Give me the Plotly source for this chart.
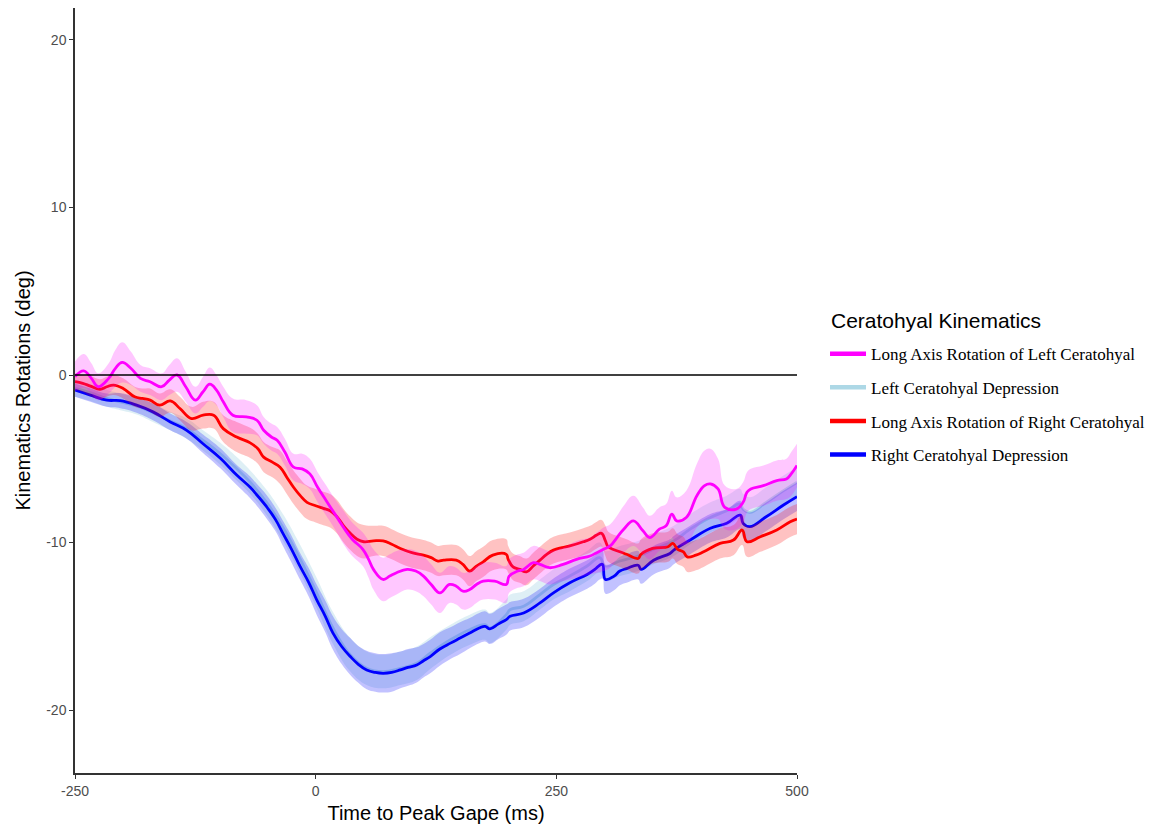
import plotly.graph_objects as go

# ---- Long Axis Rotation of Left Ceratohyal ----
lar_left_t = [-250, -241, -233, -226, -215, -208, -201, -192, -182, -172, -160, -152, -144, -135, -125,
              -117, -110, -103, -96, -86, -72, -61, -54, -46, -40, -32, -23, -14, -6, 2, 11, 20, 29, 38,
              49, 55, 60, 70, 77, 84, 95, 104, 112, 120, 129, 139, 146, 153, 160, 167, 174, 186, 198,
              201, 210, 216, 226, 233, 243, 257, 271, 285, 292, 299, 306, 313, 320, 330, 340, 347, 357,
              364, 370, 375, 385, 396, 404, 410, 418, 425, 437, 444, 448, 452, 465, 479, 489, 494, 500]
lar_left_mean = [-0.1, 0.25, -0.2, -0.7, -0.2, 0.4, 0.75, 0.4, -0.2, -0.4, -0.7, -0.3, 0.0, -0.7, -1.5,
                 -1.0, -0.55, -0.9, -1.6, -2.4, -2.5, -2.7, -3.3, -3.7, -3.9, -4.6, -5.5, -5.6, -5.9, -6.7,
                 -7.5, -8.3, -9.1, -9.8, -10.4, -11.0, -11.6, -12.2, -12.0, -11.8, -11.6, -11.7, -12.0,
                 -12.5, -13.0, -12.5, -12.6, -12.9, -12.8, -12.5, -12.3, -12.3, -12.5, -12.0, -11.7, -11.6,
                 -11.2, -11.3, -11.5, -11.3, -11.0, -10.8, -10.6, -10.4, -10.2, -9.7, -9.2, -8.7, -9.3,
                 -9.7, -9.2, -9.0, -8.3, -8.7, -8.5, -7.2, -6.6, -6.5, -6.8, -7.9, -8.0, -7.6, -7.0, -6.8,
                 -6.6, -6.3, -6.2, -5.9, -5.4]
lar_left_se = [0.9, 1.0, 0.9, 0.8, 0.9, 1.1, 1.2, 1.0, 0.8, 0.8, 0.8, 0.9, 1.0, 0.9, 0.8,
               0.9, 1.0, 0.9, 0.9, 1.0, 1.0, 0.9, 0.8, 0.8, 0.8, 0.8, 0.8, 0.9, 0.9, 0.9, 0.9, 0.9, 1.0,
               1.0, 1.0, 1.1, 1.2, 1.3, 1.3, 1.3, 1.2, 1.2, 1.2, 1.2, 1.2, 1.1, 1.1, 1.1, 1.1, 1.1, 1.1,
               1.1, 1.1, 1.0, 1.0, 1.0, 1.0, 1.0, 1.0, 1.0, 1.1, 1.1, 1.2, 1.3, 1.3, 1.3, 1.4, 1.5, 1.4,
               1.3, 1.3, 1.3, 1.4, 1.4, 1.6, 1.9, 2.1, 2.1, 1.8, 1.3, 1.2, 1.2, 1.2, 1.2, 1.2, 1.2, 1.2,
               1.3, 1.3]

# ---- Left Ceratohyal Depression ----
dep_left_t = [-250, -234, -217, -203, -186, -169, -151, -134, -117, -99, -82, -68, -51, -34, -16, 1, 18,
              36, 53, 70, 88, 105, 119, 140, 160, 176, 181, 198, 202, 216, 233, 247, 264, 282, 295, 301,
              316, 335, 351, 372, 389, 410, 427, 441, 444, 451, 468, 486, 500]
dep_left_mean = [-0.8, -1.05, -1.4, -1.6, -1.85, -2.25, -2.75, -3.2, -3.9, -4.7, -5.6, -6.4, -7.6, -9.1,
                 -11.0, -13.0, -15.1, -16.7, -17.5, -17.7, -17.5, -17.2, -16.6, -15.8, -15.2, -14.9,
                 -15.1, -14.3, -14.0, -13.8, -13.1, -12.5, -12.0, -11.4, -10.9, -11.4, -11.1, -10.8,
                 -10.4, -9.9, -9.2, -8.5, -8.1, -7.7, -8.0, -8.2, -7.6, -6.9, -6.4]
dep_left_se = [0.5, 0.5, 0.5, 0.5, 0.5, 0.55, 0.55, 0.6, 0.6, 0.65, 0.7, 0.7, 0.75, 0.8, 0.85, 0.9, 0.95,
               1.0, 1.0, 1.0, 1.0, 1.0, 0.95, 0.9, 0.9, 0.9, 0.9, 0.9, 0.9, 0.9, 0.9, 0.9, 0.9, 0.9, 0.9,
               0.9, 0.9, 0.9, 0.9, 0.9, 0.9, 0.9, 0.9, 0.9, 0.9, 0.9, 0.9, 0.9, 0.9]

# ---- Long Axis Rotation of Right Ceratohyal ----
lar_right_t = [-250, -242, -234, -224, -217, -210, -200, -188, -180, -172, -162, -151, -141, -129, -117,
               -106, -96, -82, -68, -60, -54, -45, -37, -30, -23, -16, -9, 0, 8, 15, 22, 29, 36, 43, 50,
               60, 70, 79, 88, 100, 112, 120, 127, 133, 146, 153, 160, 167, 174, 184, 198, 200, 205, 212,
               219, 226, 233, 240, 247, 256, 264, 278, 285, 292, 297, 301, 304, 316, 323, 335, 338, 350,
               366, 371, 376, 382, 386, 395, 403, 420, 434, 443, 448, 462, 479, 493, 500]
lar_right_mean = [-0.4, -0.5, -0.66, -0.85, -0.7, -0.6, -0.8, -1.3, -1.4, -1.5, -1.8, -1.55, -2.0, -2.6,
                  -2.4, -2.4, -3.2, -3.7, -4.05, -4.4, -4.9, -5.2, -5.5, -6.1, -6.7, -7.2, -7.6, -7.8,
                  -7.96, -8.1, -8.45, -9.0, -9.45, -9.8, -9.95, -9.9, -9.9, -10.1, -10.35, -10.6, -10.75,
                  -10.9, -11.1, -11.05, -11.05, -11.3, -11.7, -11.4, -11.15, -10.75, -10.7, -11.0, -11.45,
                  -11.6, -11.75, -11.4, -11.05, -10.7, -10.45, -10.3, -10.2, -9.95, -9.8, -9.55, -9.45,
                  -9.9, -10.25, -10.55, -10.7, -10.95, -10.7, -10.35, -10.25, -10.05, -10.4, -10.55,
                  -10.85, -10.75, -10.55, -10.05, -9.85, -9.25, -9.95, -9.65, -9.25, -8.76, -8.6]
lar_right_se = [0.5, 0.5, 0.6, 0.6, 0.6, 0.6, 0.6, 0.6, 0.6, 0.7, 0.7, 0.7, 0.7, 0.7, 0.8,
                0.8, 0.8, 0.9, 0.9, 0.9, 0.9, 0.9, 1.0, 1.0, 1.0, 1.0, 1.0, 1.0, 1.0, 1.0, 1.0, 1.0, 1.0,
                1.0, 1.0, 0.9, 0.9, 0.9, 0.9, 0.9, 0.9, 0.9, 0.9, 0.9, 0.9, 0.9, 0.9, 0.9, 0.9, 0.9, 0.9,
                0.8, 0.8, 0.8, 0.8, 0.8, 0.8, 0.8, 0.8, 0.8, 0.8, 0.8, 0.8, 0.8, 0.8, 0.9, 0.9, 0.9, 0.9,
                0.9, 0.9, 0.9, 0.9, 0.9, 0.9, 0.9, 0.9, 0.9, 0.9, 0.9, 0.9, 0.9, 0.9, 0.9, 0.9, 0.9, 0.9]

# ---- Right Ceratohyal Depression ----
dep_right_t = [-250, -234, -217, -203, -186, -169, -151, -134, -117, -99, -82, -68, -61, -51, -42, -34,
               -25, -16, -7, 1, 10, 18, 27, 36, 44, 53, 62, 70, 79, 88, 96, 105, 112, 119, 129, 140, 150,
               160, 170, 176, 181, 190, 198, 202, 216, 233, 247, 264, 282, 290, 295, 298, 301, 310, 316,
               323, 335, 338, 351, 368, 372, 389, 410, 427, 441, 444, 451, 468, 486, 500]
dep_right_mean = [-0.9, -1.2, -1.5, -1.53, -1.8, -2.2, -2.8, -3.3, -4.1, -4.97, -5.97, -6.7, -7.16, -7.86,
                  -8.6, -9.45, -10.4, -11.44, -12.4, -13.4, -14.4, -15.4, -16.2, -16.8, -17.25, -17.6,
                  -17.75, -17.8, -17.75, -17.6, -17.45, -17.3, -17.05, -16.8, -16.35, -16.0, -15.7, -15.4,
                  -15.1, -15.0, -15.15, -14.85, -14.6, -14.4, -14.2, -13.6, -13.0, -12.4, -11.9, -11.6,
                  -11.35, -11.3, -12.2, -12.0, -11.7, -11.55, -11.35, -11.6, -11.05, -10.65, -10.45,
                  -9.85, -9.15, -8.85, -8.36, -8.85, -9.05, -8.46, -7.76, -7.26]
dep_right_se = [0.4, 0.4, 0.4, 0.45, 0.45, 0.5, 0.5, 0.5, 0.55, 0.6, 0.6, 0.65, 0.65, 0.7, 0.7, 0.75,
                0.8, 0.8, 0.85, 0.9, 0.95, 1.0, 1.05, 1.1, 1.1, 1.15, 1.15, 1.15, 1.15, 1.1, 1.1, 1.05,
                1.0, 1.0, 1.0, 0.95, 0.95, 0.9, 0.9, 0.9, 0.9, 0.9, 0.9, 0.85, 0.85, 0.85, 0.85, 0.85,
                0.85, 0.85, 0.85, 0.85, 0.85, 0.85, 0.85, 0.85, 0.85, 0.85, 0.85, 0.85, 0.85, 0.85, 0.85,
                0.85, 0.85, 0.85, 0.85, 0.85, 0.85, 0.85]

x_ticks = [-250, 0, 250, 500]
y_ticks = [-20, -10, 0, 10, 20]

# name, time, mean, se, line colour, ribbon colour (drawing order is list order)
series = [
    ("Left Ceratohyal Depression", dep_left_t, dep_left_mean, dep_left_se,
     "#ADD8E6", "rgba(173,216,230,0.4)"),
    ("Right Ceratohyal Depression", dep_right_t, dep_right_mean, dep_right_se,
     "#0000FF", "rgba(0,0,255,0.24)"),
    ("Long Axis Rotation of Right Ceratohyal", lar_right_t, lar_right_mean, lar_right_se,
     "#FF0000", "rgba(255,0,0,0.24)"),
    ("Long Axis Rotation of Left Ceratohyal", lar_left_t, lar_left_mean, lar_left_se,
     "#FF00FF", "rgba(255,0,255,0.22)"),
]
legend_order = ["Long Axis Rotation of Left Ceratohyal", "Left Ceratohyal Depression",
                "Long Axis Rotation of Right Ceratohyal", "Right Ceratohyal Depression"]

SMOOTH = 1.2
fig = go.Figure()
colours = {}
for name, t, m, se, col, fillcol in series:
    colours[name] = col
    lo = [a - b for a, b in zip(m, se)]
    hi = [a + b for a, b in zip(m, se)]
    fig.add_trace(go.Scatter(x=t, y=lo, mode="lines", line=dict(width=0, shape="spline", smoothing=SMOOTH),
                             showlegend=False, hoverinfo="skip"))
    fig.add_trace(go.Scatter(x=t, y=hi, mode="lines", line=dict(width=0, shape="spline", smoothing=SMOOTH),
                             fill="tonexty", fillcolor=fillcol, showlegend=False, hoverinfo="skip"))
    fig.add_trace(go.Scatter(x=t, y=m, mode="lines", name=name, showlegend=False,
                             line=dict(color=col, width=2.8, shape="spline", smoothing=SMOOTH)))

# legend keys, drawn with a thicker stroke than the data lines
for rank, name in enumerate(legend_order, start=1):
    fig.add_trace(go.Scatter(x=[None], y=[None], mode="lines", name=name, legendgroup=name,
                             legendrank=rank, line=dict(color=colours[name], width=4.5)))

# horizontal reference line at zero
fig.add_shape(type="line", x0=-250, x1=500, y0=0, y1=0, xref="x", yref="y",
              line=dict(color="black", width=1.5), layer="above")

# legend heading
fig.add_annotation(text="Ceratohyal Kinematics", xref="paper", yref="paper",
                   x=(829 - 75) / 722, y=(773 - 320) / 765, xanchor="left", yanchor="middle",
                   showarrow=False,
                   font=dict(family="Liberation Sans, Arial, sans-serif", size=21, color="black"))

axis_font = dict(family="Liberation Sans, Arial, sans-serif", size=14, color="#4D4D4D")
fig.update_xaxes(range=[-250, 500], tickvals=x_ticks, ticktext=[str(v) for v in x_ticks],
                 tickfont=axis_font, ticks="outside", ticklen=4, tickcolor="#333333",
                 showline=True, linecolor="#333333", linewidth=1.5, showgrid=False, zeroline=False,
                 title=dict(text="Time to Peak Gape (ms)", standoff=8,
                            font=dict(family="Liberation Sans, Arial, sans-serif", size=20, color="black")))
fig.update_yaxes(range=[-23.75, 21.9], tickvals=y_ticks, ticktext=[str(v) for v in y_ticks],
                 tickfont=axis_font, ticks="outside", ticklen=4, tickcolor="#333333",
                 showline=True, linecolor="#333333", linewidth=1.5, showgrid=False, zeroline=False,
                 title=dict(text="Kinematics Rotations (deg)", standoff=10,
                            font=dict(family="Liberation Sans, Arial, sans-serif", size=20, color="black")))

fig.update_layout(
    width=1156, height=829,
    margin=dict(l=75, r=359, t=8, b=56, autoexpand=False),
    paper_bgcolor="white", plot_bgcolor="white",
    legend=dict(
        font=dict(family="Liberation Serif, Times New Roman, serif", size=17, color="black"),
        x=1.0388, xanchor="left", y=0.571, yanchor="top", itemwidth=36,
        traceorder="grouped", tracegroupgap=8.5, bgcolor="rgba(0,0,0,0)",
    ),
)

fig.write_html("out.html")
